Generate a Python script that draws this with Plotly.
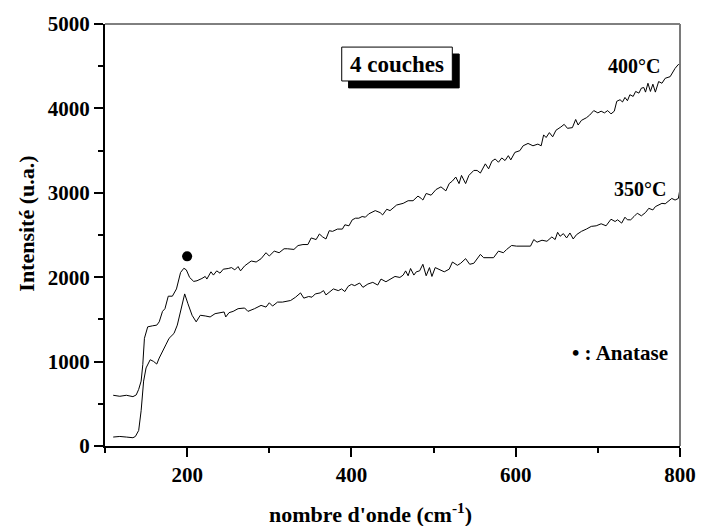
import plotly.graph_objects as go

# ---- data ----
x_400 = [110,118,126,134,138,141,144,146,148,152,158,163,166,170,173,177,182,187,192,196,
         199,203,208,212,218,222,224,229,232,236,240,244,250,254,258,262,265,270,278,284,
         290,296,300,306,312,318,
         322,330,335,341,347,351,357,361,365,369,373,377,383,389,392,397,401,405,409,413,
         417,421,429,435,438,443,447,455,463,469,475,481,485,487,491,497,503,509,515,519,
         523,527,531,534,539,543,549,
         553,557,561,563,567,571,575,579,583,587,591,594,599,605,609,615,621,627,631,634,
         637,641,645,649,655,659,663,669,673,676,680,686,690,695,700,704,708,712,716,720,
         723,727,730,733,736,739,743,746,750,753,756,758,761,764,767,770,774,778,782,788,
         794,798,800]
y_400 = [601,589,601,585,605,671,769,964,1276,1412,1424,1432,1471,1595,1627,1775,1775,1861,2056,2106,
         2087,1997,1950,1958,1985,2009,1978,2064,2025,2075,2048,2095,2103,2114,2087,2126,2075,2134,2192,2180,
         2219,2290,2251,2309,2290,2337,
         2337,2329,2375,2387,2387,2465,2446,2512,2477,2453,2551,2543,2570,2570,2621,2609,2680,2699,2699,2719,
         2711,2750,2789,2765,2738,2805,2789,2855,2875,2906,2906,2961,2933,2914,2992,2972,3039,3070,3023,3109,
         3140,3187,3109,3206,3109,3206,3265,
         3265,3234,3296,3343,3284,3374,3401,3362,3413,3382,3440,3390,3479,3499,3557,3585,3557,3577,3557,3686,
         3655,3713,3663,3741,3780,3811,3764,3772,3869,3803,3858,3889,3920,3974,3947,3967,3947,3974,3935,3967,
         4084,4103,4076,4130,4091,4162,4142,4201,4181,4240,4247,4193,4298,4201,4287,4193,4318,4298,4357,4376,
         4474,4521,4505]

x_350 = [110,118,126,134,137,141,144,147,150,155,159,163,166,170,174,178,184,188,192,195,
         197,201,206,211,216,222,228,234,240,245,247,251,256,262,270,274,282,290,296,300,
         304,310,316,
         322,326,332,338,342,348,352,356,362,366,369,374,378,384,388,392,396,400,404,410,
         414,420,426,432,436,442,448,453,459,463,466,469,472,476,479,483,487,491,495,498,
         502,507,513,519,523,529,533,539,544,549,553,557,561,
         565,573,579,585,589,595,601,609,618,622,626,632,638,644,648,651,654,658,662,666,
         670,674,680,686,692,698,704,710,716,721,724,729,733,736,740,744,748,753,758,762,
         767,770,774,778,782,786,790,794,798,800]
y_350 = [106,113,106,98,113,184,418,769,925,1022,1003,971,1042,1128,1198,1276,1334,1432,1588,1724,
         1802,1685,1549,1471,1549,1541,1529,1568,1580,1588,1529,1580,1595,1627,1635,1595,1627,1666,1646,1697,
         1658,1705,1705,
         1713,1724,1763,1814,1752,1771,1763,1802,1814,1841,1790,1830,1861,1841,1861,1830,1892,1915,1900,1931,
         1880,1919,1939,1907,1978,1946,1978,2009,1997,2025,2075,2017,2103,2025,2064,2075,2153,2017,2114,2009,
         2114,2087,2064,2095,2180,2141,2165,2220,2153,2165,2212,2270,2231,
         2231,2231,2309,2290,2329,2376,2368,2368,2368,2446,2415,2438,2426,2477,2446,2532,2485,2516,2465,2524,
         2453,2504,2543,2570,2602,2609,2633,2609,2687,2660,2680,2641,2711,2680,2680,2719,2758,2727,2766,2816,
         2797,2836,2855,2875,2870,2900,2933,2914,2933,3050]

anatase_x = [200]
anatase_y = [2247]

x_ticks = [200, 400, 600, 800]
y_ticks = [0, 1000, 2000, 3000, 4000, 5000]

FONT = "Liberation Serif, Times New Roman, serif"

fig = go.Figure()
fig.add_trace(go.Scatter(x=x_400, y=y_400, mode="lines",
                         line=dict(color="black", width=1), name="400°C"))
fig.add_trace(go.Scatter(x=x_350, y=y_350, mode="lines",
                         line=dict(color="black", width=1), name="350°C"))
fig.add_trace(go.Scatter(x=anatase_x, y=anatase_y, mode="markers",
                         marker=dict(color="black", size=10), name="Anatase"))

axis_common = dict(
    showgrid=False, zeroline=False, showline=True, linecolor="black", linewidth=2,
    ticks="outside", tickcolor="black", tickwidth=2, ticklen=9,
    tickfont=dict(family=FONT, size=21, color="black", weight="bold"),
    mirror=False,
)
fig.update_xaxes(range=[100, 800], tickvals=x_ticks, ticktext=[str(v) for v in x_ticks],
                 minor=dict(dtick=100, tick0=0, ticks="outside", ticklen=5, tickwidth=2, tickcolor="black"),
                 **axis_common)
fig.update_yaxes(range=[0, 5000], tickvals=y_ticks, ticktext=[str(v) for v in y_ticks],
                 minor=dict(dtick=500, tick0=0, ticks="outside", ticklen=5, tickwidth=2, tickcolor="black"),
                 **axis_common)

shapes = [
    # top border
    dict(type="line", xref="paper", yref="paper", x0=0, x1=1, y0=1, y1=1,
         line=dict(color="black", width=1)),
    # right border
    dict(type="line", xref="paper", yref="paper", x0=1, x1=1, y0=0, y1=1,
         line=dict(color="#7a7a7a", width=2)),
    # shadow of the label box
    dict(type="rect", xref="paper", yref="paper", x0=0.4236, x1=0.616, y0=0.8486, y1=0.9289,
         fillcolor="black", line=dict(color="black", width=1)),
    # label box
    dict(type="rect", xref="paper", yref="paper", x0=0.4117, x1=0.604, y0=0.865, y1=0.9453,
         fillcolor="white", line=dict(color="black", width=1)),
]

def ann(text, x, y, size=20, xanchor="center", textangle=0):
    return dict(text=text, x=x, y=y, xref="paper", yref="paper", showarrow=False,
                xanchor=xanchor, yanchor="middle", textangle=textangle,
                font=dict(family=FONT, size=size, color="black", weight="bold"))

annotations = [
    ann("4 couches", 0.508, 0.905, size=23),
    ann("400°C", 0.9197, 0.900, size=20),
    ann("350°C", 0.931, 0.6095, size=20),
    ann("• : Anatase", 0.808, 0.22, size=21, xanchor="left"),
    ann("nombre d'onde (cm<sup>-1</sup>)", 0.462, -0.158, size=22),
    ann("Intensité (u.a.)", -0.138, 0.526, size=22, textangle=-90),
]

fig.update_layout(
    width=708, height=526,
    margin=dict(l=105, r=18, t=18, b=80),
    paper_bgcolor="white", plot_bgcolor="white",
    showlegend=False,
    shapes=shapes, annotations=annotations,
    font=dict(family=FONT, color="black"),
)

fig.write_html("out.html",
               config={"displayModeBar": False},
               post_script="document.body.style.margin='0';document.body.style.overflow='hidden';")
